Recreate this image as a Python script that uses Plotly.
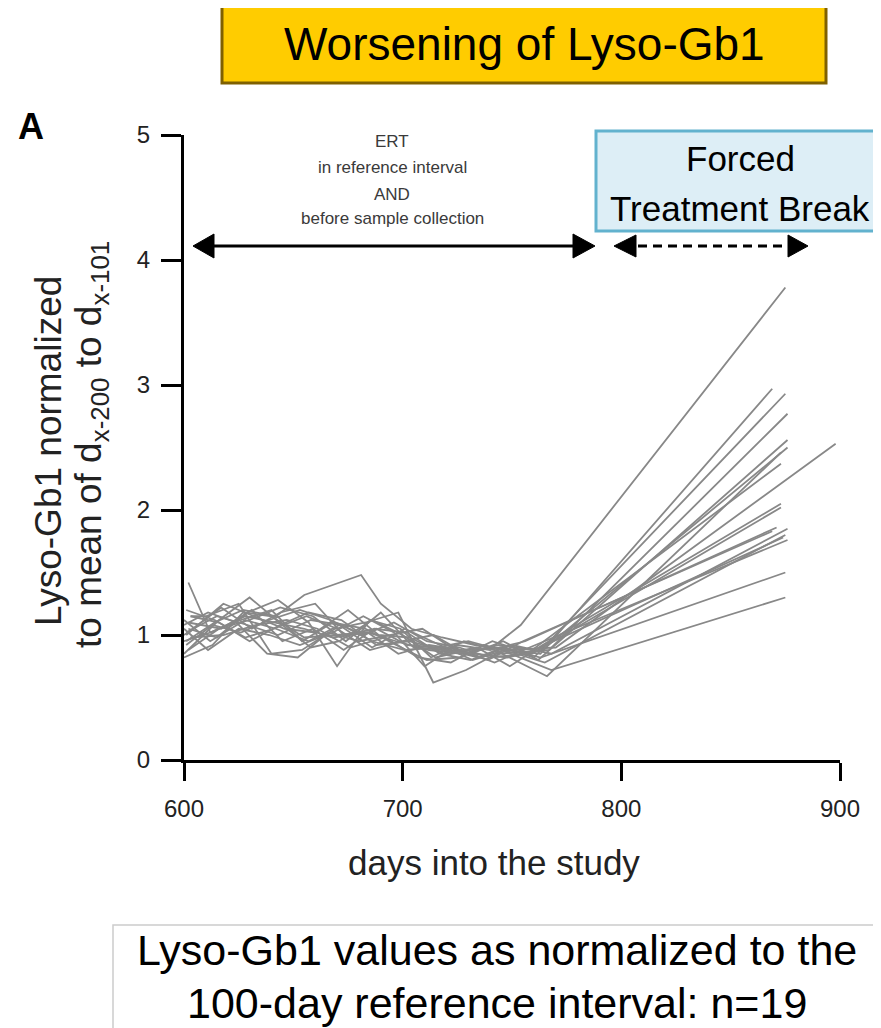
import plotly.graph_objects as go

# ---------------- data ----------------
days = [
    [602, 612, 628, 641, 655, 668, 684, 697, 712, 727, 741, 754, 875],
    [601, 614, 627, 642, 655, 681, 690, 704, 718, 733, 748, 763, 869],
    [600, 616, 630, 645, 658, 671, 686, 700, 715, 730, 745, 760, 875],
    [603, 610, 625, 640, 654, 669, 683, 698, 714, 729, 743, 767, 876],
    [600, 617, 631, 644, 660, 673, 688, 702, 716, 731, 746, 762, 876],
    [602, 615, 629, 643, 657, 670, 685, 699, 713, 728, 742, 766, 873],
    [601, 613, 626, 639, 653, 667, 682, 696, 711, 726, 740, 757, 873],
    [600, 612, 628, 642, 657, 671, 686, 701, 717, 732, 747, 770, 898],
    [601, 618, 632, 646, 660, 675, 689, 703, 719, 734, 749, 764, 873],
    [602, 616, 630, 644, 659, 674, 690, 705, 720, 735, 750, 768, 876],
    [600, 611, 624, 638, 652, 666, 680, 694, 709, 724, 739, 755, 869],
    [603, 618, 633, 647, 661, 676, 692, 707, 722, 737, 752, 765, 875],
    [601, 614, 628, 641, 656, 670, 685, 700, 714, 729, 744, 760, 874],
    [600, 613, 627, 640, 655, 669, 684, 698, 712, 727, 742, 758, 876],
    [602, 617, 631, 645, 659, 673, 687, 702, 717, 731, 746, 763, 875],
    [601, 615, 629, 643, 658, 672, 686, 701, 716, 730, 745, 768, 875],
    [600, 612, 626, 640, 654, 668, 683, 697, 711, 726, 741, 759, 873],
    [603, 616, 630, 644, 657, 672, 688, 703, 718, 733, 748, 764, 876],
    [600, 611, 625, 639, 653, 668, 682, 696, 710, 725, 740, 756, 871],
]
values = [
    [1.42, 1.02, 1.15, 1.10, 1.05, 0.98, 1.02, 0.95, 0.88, 0.85, 0.90, 1.08, 3.78],
    [0.95, 1.10, 1.20, 1.15, 1.32, 1.48, 1.25, 1.05, 0.98, 0.92, 0.88, 0.85, 2.97],
    [0.85, 1.12, 1.30, 1.08, 0.90, 0.95, 1.12, 1.00, 0.82, 0.88, 0.90, 0.82, 2.93],
    [1.15, 1.15, 1.25, 0.85, 0.88, 1.05, 1.10, 1.18, 0.62, 0.72, 0.85, 0.88, 2.77],
    [1.00, 1.22, 1.05, 1.18, 1.25, 1.00, 1.05, 0.92, 0.90, 0.85, 0.95, 0.80, 2.56],
    [1.05, 0.98, 1.18, 1.28, 1.10, 0.75, 1.12, 1.05, 0.82, 0.95, 0.88, 0.67, 2.46],
    [0.92, 1.08, 1.02, 1.12, 1.20, 1.12, 1.00, 1.10, 0.95, 0.90, 0.82, 0.85, 2.37],
    [1.12, 0.95, 1.12, 1.05, 0.95, 1.08, 0.90, 1.05, 0.92, 0.80, 0.88, 0.90, 2.53],
    [1.00, 1.25, 1.15, 1.05, 1.02, 1.20, 1.00, 0.98, 0.85, 0.90, 0.75, 0.92, 2.05],
    [0.88, 1.05, 1.12, 1.22, 1.15, 0.95, 1.18, 0.90, 0.88, 0.82, 0.92, 0.85, 1.85],
    [1.08, 1.18, 1.10, 0.85, 0.82, 1.02, 0.95, 1.00, 1.05, 0.88, 0.80, 0.95, 1.83],
    [0.98, 1.00, 1.08, 1.12, 1.05, 0.90, 0.98, 0.82, 0.78, 0.92, 0.85, 0.78, 1.80],
    [1.20, 1.12, 0.98, 1.05, 1.15, 1.05, 0.88, 0.95, 1.00, 0.85, 0.92, 0.88, 1.78],
    [0.82, 0.92, 1.18, 1.15, 0.98, 1.00, 1.02, 0.85, 0.92, 0.88, 0.78, 0.90, 1.76],
    [1.10, 1.05, 1.20, 0.95, 1.05, 0.88, 1.05, 1.02, 0.85, 0.80, 0.90, 0.82, 1.50],
    [1.02, 1.15, 1.08, 1.00, 1.12, 1.08, 0.95, 0.88, 0.90, 0.95, 0.88, 0.72, 1.30],
    [0.95, 1.02, 1.12, 1.20, 0.95, 1.10, 1.05, 0.92, 0.80, 0.82, 0.95, 0.85, 2.02],
    [1.15, 1.10, 0.95, 1.08, 1.18, 1.12, 0.92, 0.95, 0.88, 0.85, 0.82, 0.88, 2.50],
    [1.05, 0.88, 1.05, 1.00, 0.92, 1.02, 1.15, 1.02, 0.75, 0.92, 0.88, 0.95, 1.86],
]
x_ticks = [600, 700, 800, 900]
y_ticks = [0, 1, 2, 3, 4, 5]

title_text = "Worsening of Lyso-Gb1"
ert_lines = ["ERT", "in reference interval", "AND", "before sample collection"]
break_lines = ["Forced", "Treatment Break"]
bottom_lines = ["Lyso-Gb1 values as normalized to the", "100-day reference interval: n=19"]
ytitle_lines = ["Lyso-Gb1 normalized", "to mean of d<sub>x-200</sub> to d<sub>x-101</sub>"]
xtitle_text = "days into the study"

# ---------------- layout geometry ----------------
OFF = 8                      # page body margin
W, H = 881 - OFF, 1028 - OFF
X600, X900 = 184 - OFF, 840 - OFF
Y5, Y0 = 135 - OFF, 760 - OFF
L, R, T, B = X600, W - X900, Y5, H - Y0
PW = W - L - R
PH = H - T - B


def px(x):
    """page pixel x -> paper fraction"""
    return (x - OFF - L) / PW


def py(y):
    """page pixel y -> paper fraction"""
    return (H - B - (y - OFF)) / PH


FONT = "Liberation Sans, Arial, sans-serif"

fig = go.Figure()
for d, v in zip(days, values):
    fig.add_trace(go.Scatter(x=d, y=v, mode="lines",
                             line=dict(color="#888888", width=1.8),
                             showlegend=False, hoverinfo="skip"))

shapes = []
annotations = []


def txt(x, y, s, size, color="black", angle=0):
    annotations.append(dict(xref="paper", yref="paper", x=px(x), y=py(y),
                            text=s, showarrow=False, textangle=angle,
                            font=dict(family=FONT, size=size, color=color),
                            xanchor="center", yanchor="middle"))


# title box
shapes.append(dict(type="rect", xref="paper", yref="paper",
                   x0=px(222), x1=px(826), y0=py(6), y1=py(83),
                   fillcolor="#FFCC00", line=dict(color="#7F6000", width=3)))
txt(524, 44, title_text, 46)

# panel letter
txt(31, 126, "<b>A</b>", 36)

# ERT text
for t, yy in zip(ert_lines, [141, 167, 194, 219]):
    txt(392, yy, t, 17, "#3a3a3a")

# solid double arrow
ay = 246
shapes.append(dict(type="line", xref="paper", yref="paper",
                   x0=px(210), x1=px(576), y0=py(ay), y1=py(ay),
                   line=dict(color="black", width=3)))
shapes.append(dict(type="path", xref="paper", yref="paper",
                   path=f"M {px(193)},{py(ay)} L {px(214)},{py(ay-12)} L {px(214)},{py(ay+12)} Z",
                   fillcolor="black", line=dict(color="black", width=1)))
shapes.append(dict(type="path", xref="paper", yref="paper",
                   path=f"M {px(595)},{py(ay)} L {px(573)},{py(ay-12)} L {px(573)},{py(ay+12)} Z",
                   fillcolor="black", line=dict(color="black", width=1)))

# forced treatment break box
shapes.append(dict(type="rect", xref="paper", yref="paper",
                   x0=px(596), x1=px(884), y0=py(131), y1=py(231),
                   fillcolor="#DDEEF6", line=dict(color="#62B2CE", width=3)))
for t, yy in zip(break_lines, [158, 208]):
    txt(740, yy, t, 35)

# dashed double arrow
shapes.append(dict(type="line", xref="paper", yref="paper",
                   x0=px(638), x1=px(790), y0=py(ay), y1=py(ay),
                   line=dict(color="black", width=3, dash="9px,6px")))
shapes.append(dict(type="path", xref="paper", yref="paper",
                   path=f"M {px(614)},{py(ay)} L {px(636)},{py(ay-11)} L {px(636)},{py(ay+11)} Z",
                   fillcolor="black", line=dict(color="black", width=1)))
shapes.append(dict(type="path", xref="paper", yref="paper",
                   path=f"M {px(808)},{py(ay)} L {px(788)},{py(ay-11)} L {px(788)},{py(ay+11)} Z",
                   fillcolor="black", line=dict(color="black", width=1)))

# y-axis title (two lines)
txt(48, 451, ytitle_lines[0], 37, "#222222", -90)
txt(91, 445, ytitle_lines[1], 37, "#222222", -90)

# x-axis title
txt(494, 862, xtitle_text, 35, "#222222")

# bottom box
shapes.append(dict(type="rect", xref="paper", yref="paper",
                   x0=px(113), x1=px(890), y0=py(925), y1=py(1040),
                   fillcolor="white", line=dict(color="#cccccc", width=1.5)))
for t, yy in zip(bottom_lines, [950, 1003]):
    txt(497, yy, t, 43)

fig.update_layout(
    width=W, height=H,
    margin=dict(l=L, r=R, t=T, b=B, pad=0),
    paper_bgcolor="white", plot_bgcolor="white",
    shapes=shapes, annotations=annotations,
    showlegend=False,
    xaxis=dict(range=[600, 900], tickvals=x_ticks, ticktext=[str(v) for v in x_ticks],
               showgrid=False, zeroline=False, showline=True, linecolor="black", linewidth=3,
               ticks="outside", ticklen=18, tickwidth=2.5, tickcolor="black",
               tickfont=dict(family=FONT, size=24, color="#222222"),
               ticklabelstandoff=7, fixedrange=True),
    yaxis=dict(range=[0, 5], tickvals=y_ticks, ticktext=[str(v) for v in y_ticks],
               showgrid=False, zeroline=False, showline=True, linecolor="black", linewidth=3,
               ticks="outside", ticklen=20, tickwidth=2.5, tickcolor="black",
               tickfont=dict(family=FONT, size=24, color="#222222"),
               ticklabelstandoff=6, fixedrange=True),
)

fig.write_html("out.html")
